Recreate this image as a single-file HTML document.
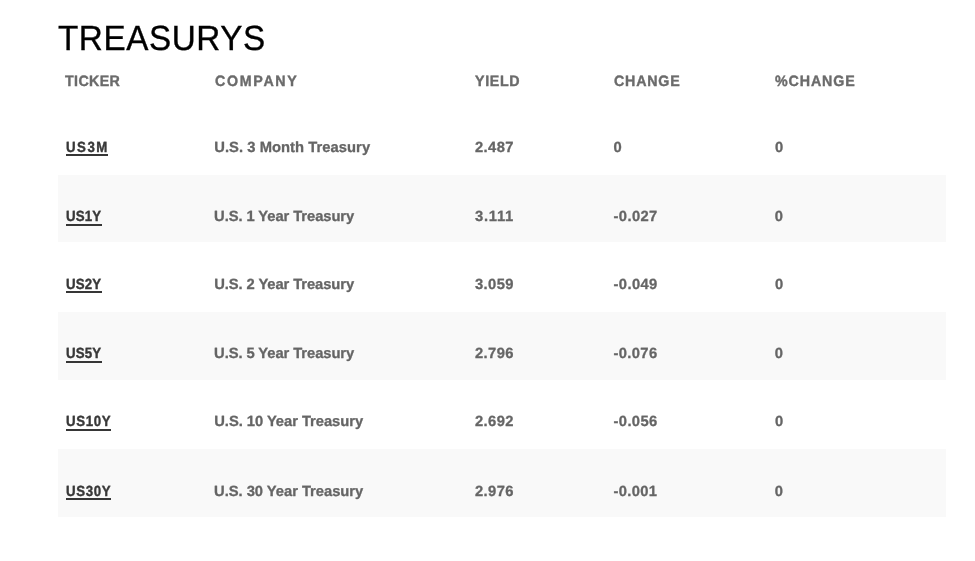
<!DOCTYPE html>
<html><head><meta charset="utf-8"><style>
html,body{margin:0;padding:0;background:#fff;width:975px;height:561px;overflow:hidden}
body{position:relative;font-family:"Liberation Sans",sans-serif;text-rendering:geometricPrecision}
.L{position:absolute;left:0;top:0;width:975px;height:561px;will-change:transform}
.a{position:absolute;white-space:nowrap;line-height:1;transform-origin:0 0}
.title{font-weight:400;color:#000;-webkit-text-stroke:0.35px #000}
.h{font-weight:700;color:#6b6b6b;-webkit-text-stroke:0.4px #6b6b6b}
.d{font-weight:700;color:#656565;-webkit-text-stroke:0.3px #656565}
.tk{font-weight:700;color:#383838;-webkit-text-stroke:0.4px #383838}
.ul{position:absolute;height:2px;background:#363636}
.st{position:absolute;left:58px;width:888px;background:#f9f9f9}
</style></head><body>
<div class="st" style="top:175px;height:67px"></div>
<div class="st" style="top:312px;height:68px"></div>
<div class="st" style="top:449px;height:68px"></div>
<div class="L">
<div class="a title" id="title" style="left:57.71px;top:21.00px;font-size:35px;letter-spacing:0.592px;transform:scaleX(0.95)">TREASURYS</div>
<div class="a h" id="h_TICKER" style="left:65.36px;top:74.00px;font-size:15px;letter-spacing:0.392px;transform:scaleX(0.95)">TICKER</div>
<div class="a h" id="h_COMPANY" style="left:214.57px;top:74.00px;font-size:15px;letter-spacing:1.759px;transform:scaleX(0.95)">COMPANY</div>
<div class="a h" id="h_YIELD" style="left:474.78px;top:74.00px;font-size:15px;letter-spacing:0.680px;transform:scaleX(0.95)">YIELD</div>
<div class="a h" id="h_CHANGE" style="left:613.72px;top:74.00px;font-size:15px;letter-spacing:0.828px;transform:scaleX(0.95)">CHANGE</div>
<div class="a h" id="h_%CHANGE" style="left:775.45px;top:74.00px;font-size:15px;letter-spacing:0.928px;transform:scaleX(0.95)">%CHANGE</div>
<div class="a tk" id="tk0" style="left:65.53px;top:141.00px;font-size:14.75px;letter-spacing:1.676px;transform:scaleX(0.9)">US3M</div>
<div class="ul" style="left:65.8px;top:154px;width:42.0px"></div>
<div class="a d" id="co0" style="left:214.23px;top:141.00px;font-size:14.75px;letter-spacing:0.049px">U.S. 3 Month Treasury</div>
<div class="a d" id="yl0" style="left:474.91px;top:141.00px;font-size:14.75px;letter-spacing:0.425px">2.487</div>
<div class="a d" id="ch0" style="left:613.41px;top:141.00px;font-size:14.75px;letter-spacing:0.000px">0</div>
<div class="a d" id="pc0" style="left:774.88px;top:141.00px;font-size:14.75px;letter-spacing:0.000px">0</div>
<div class="a tk" id="tk1" style="left:65.50px;top:210.00px;font-size:14.75px;letter-spacing:0.198px;transform:scaleX(0.9)">US1Y</div>
<div class="ul" style="left:65.8px;top:224px;width:36.1px"></div>
<div class="a d" id="co1" style="left:214.08px;top:210.00px;font-size:14.75px;letter-spacing:-0.078px">U.S. 1 Year Treasury</div>
<div class="a d" id="yl1" style="left:475.09px;top:210.00px;font-size:14.75px;letter-spacing:0.717px">3.111</div>
<div class="a d" id="ch1" style="left:613.54px;top:210.00px;font-size:14.75px;letter-spacing:0.393px">-0.027</div>
<div class="a d" id="pc1" style="left:774.80px;top:210.00px;font-size:14.75px;letter-spacing:0.000px">0</div>
<div class="a tk" id="tk2" style="left:65.53px;top:278.00px;font-size:14.75px;letter-spacing:0.194px;transform:scaleX(0.9)">US2Y</div>
<div class="ul" style="left:65.8px;top:291px;width:36.1px"></div>
<div class="a d" id="co2" style="left:214.23px;top:278.00px;font-size:14.75px;letter-spacing:-0.090px">U.S. 2 Year Treasury</div>
<div class="a d" id="yl2" style="left:475.00px;top:278.00px;font-size:14.75px;letter-spacing:0.393px">3.059</div>
<div class="a d" id="ch2" style="left:613.57px;top:278.00px;font-size:14.75px;letter-spacing:0.376px">-0.049</div>
<div class="a d" id="pc2" style="left:774.88px;top:278.00px;font-size:14.75px;letter-spacing:0.000px">0</div>
<div class="a tk" id="tk3" style="left:65.50px;top:347.00px;font-size:14.75px;letter-spacing:0.198px;transform:scaleX(0.9)">US5Y</div>
<div class="ul" style="left:65.8px;top:361px;width:36.1px"></div>
<div class="a d" id="co3" style="left:214.08px;top:347.00px;font-size:14.75px;letter-spacing:-0.078px">U.S. 5 Year Treasury</div>
<div class="a d" id="yl3" style="left:474.93px;top:347.00px;font-size:14.75px;letter-spacing:0.432px">2.796</div>
<div class="a d" id="ch3" style="left:613.54px;top:347.00px;font-size:14.75px;letter-spacing:0.356px">-0.076</div>
<div class="a d" id="pc3" style="left:774.80px;top:347.00px;font-size:14.75px;letter-spacing:0.000px">0</div>
<div class="a tk" id="tk4" style="left:65.53px;top:415.00px;font-size:14.75px;letter-spacing:0.729px;transform:scaleX(0.9)">US10Y</div>
<div class="ul" style="left:65.8px;top:429px;width:45.7px"></div>
<div class="a d" id="co4" style="left:214.23px;top:415.00px;font-size:14.75px;letter-spacing:-0.044px">U.S. 10 Year Treasury</div>
<div class="a d" id="yl4" style="left:474.91px;top:415.00px;font-size:14.75px;letter-spacing:0.416px">2.692</div>
<div class="a d" id="ch4" style="left:613.57px;top:415.00px;font-size:14.75px;letter-spacing:0.357px">-0.056</div>
<div class="a d" id="pc4" style="left:774.88px;top:415.00px;font-size:14.75px;letter-spacing:0.000px">0</div>
<div class="a tk" id="tk5" style="left:65.50px;top:485.00px;font-size:14.75px;letter-spacing:0.741px;transform:scaleX(0.9)">US30Y</div>
<div class="ul" style="left:65.8px;top:498px;width:45.7px"></div>
<div class="a d" id="co5" style="left:214.08px;top:485.00px;font-size:14.75px;letter-spacing:-0.033px">U.S. 30 Year Treasury</div>
<div class="a d" id="yl5" style="left:474.93px;top:485.00px;font-size:14.75px;letter-spacing:0.432px">2.976</div>
<div class="a d" id="ch5" style="left:613.54px;top:485.00px;font-size:14.75px;letter-spacing:0.331px">-0.001</div>
<div class="a d" id="pc5" style="left:774.80px;top:485.00px;font-size:14.75px;letter-spacing:0.000px">0</div>
</div>
</body></html>
